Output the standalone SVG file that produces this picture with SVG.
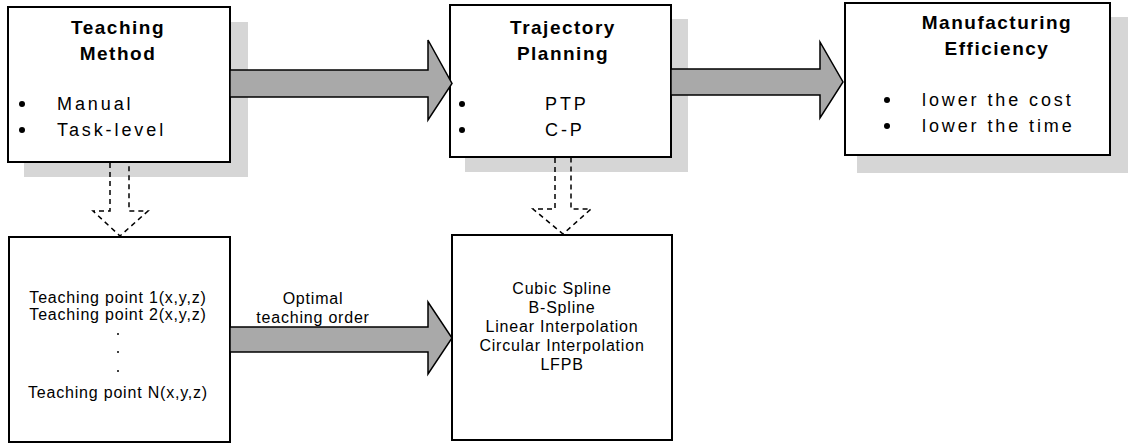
<svg xmlns="http://www.w3.org/2000/svg" width="1128" height="444" viewBox="0 0 1128 444">
  <defs>
    <style>
      .box { fill: #ffffff; stroke: #000000; stroke-width: 2; }
      .shadow { fill: #d6d6d6; }
      .fat { fill: #a9a9a9; stroke: #000000; stroke-width: 1.5; stroke-linejoin: miter; }
      .dash { fill: none; stroke: #000000; stroke-width: 1.5; stroke-dasharray: 5 4; }
      .title { font-family: "Liberation Sans", Arial, sans-serif; font-weight: bold; font-size: 19px; letter-spacing: 1.5px; text-anchor: middle; fill: #000; }
      .item { font-family: "Liberation Sans", Arial, sans-serif; font-size: 18px; letter-spacing: 2.9px; fill: #000; }
      .small { font-family: "Liberation Sans", Arial, sans-serif; font-size: 16px; letter-spacing: 0.8px; text-anchor: middle; fill: #000; }
      .dot { fill: #000; }
    </style>
  </defs>

  <g id="teaching-method">
    <rect class="shadow" x="24" y="22" width="224" height="155"/>
    <rect class="box" x="8" y="7" width="222" height="155"/>
    <text class="title" x="118" y="34">Teaching</text>
    <text class="title" x="118" y="60">Method</text>
    <circle class="dot" cx="22" cy="104" r="3"/>
    <circle class="dot" cx="22" cy="130" r="3"/>
    <text class="item" x="57" y="110">Manual</text>
    <text class="item" x="57" y="136">Task-level</text>
  </g>

  <g id="trajectory-planning">
    <rect class="shadow" x="465" y="19" width="223" height="153"/>
    <rect class="box" x="450" y="5" width="221" height="152"/>
    <text class="title" x="563" y="34">Trajectory</text>
    <text class="title" x="563" y="60">Planning</text>
    <circle class="dot" cx="462" cy="104" r="3"/>
    <circle class="dot" cx="462" cy="130" r="3"/>
    <text class="item" x="545" y="110">PTP</text>
    <text class="item" x="545" y="136">C-P</text>
  </g>

  <g id="manufacturing-efficiency">
    <rect class="shadow" x="857" y="17" width="271" height="156"/>
    <rect class="box" x="845" y="3" width="265" height="152"/>
    <text class="title" x="997" y="29">Manufacturing</text>
    <text class="title" x="997" y="55">Efficiency</text>
    <circle class="dot" cx="887" cy="100" r="3"/>
    <circle class="dot" cx="887" cy="126" r="3"/>
    <text class="item" x="922" y="106">lower the cost</text>
    <text class="item" x="922" y="132">lower the time</text>
  </g>

  <g id="teaching-points">
    <rect class="box" x="9" y="237" width="221" height="205"/>
    <text class="small" x="118" y="303">Teaching point 1(x,y,z)</text>
    <text class="small" x="118" y="320">Teaching point 2(x,y,z)</text>
    <circle class="dot" cx="118" cy="334" r="1"/>
    <circle class="dot" cx="118" cy="352" r="1"/>
    <circle class="dot" cx="118" cy="371" r="1"/>
    <text class="small" x="118" y="398">Teaching point  N(x,y,z)</text>
  </g>

  <g id="order-label">
    <text class="small" x="313" y="304">Optimal</text>
    <text class="small" x="313" y="323">teaching order</text>
  </g>

  <g id="interpolation-methods">
    <rect class="box" x="452" y="235" width="220" height="205"/>
    <text class="small" x="562" y="294">Cubic Spline</text>
    <text class="small" x="562" y="313">B-Spline</text>
    <text class="small" x="562" y="332">Linear Interpolation</text>
    <text class="small" x="562" y="351">Circular Interpolation</text>
    <text class="small" x="562" y="370">LFPB</text>
  </g>

  <!-- block arrows and dashed drop arrows, drawn over the shadows -->
  <g id="connectors">
    <polygon class="fat" points="230,70 428,70 428,40 452,83.5 428,120 428,97 230,97"/>
    <polygon class="fat" points="671,69 820,69 820,42 843,82 820,118 820,95 671,95"/>
    <polygon class="fat" points="230,327 428,327 428,302 452,338 428,374 428,352 230,352"/>
    <path class="dash" d="M110,163 V211 H93 L120,236 L148,211 H129 V163"/>
    <path class="dash" d="M555,158 V209 H533 L563,234 L591,209 H571 V158"/>
  </g>
</svg>
